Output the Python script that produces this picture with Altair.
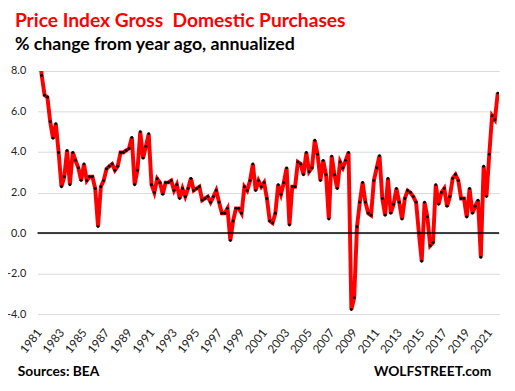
import altair as alt
import pandas as pd

start_year = 1981
values = [
    9.0, 7.78, 6.81, 6.71, 5.50, 4.68, 5.40, 3.98, 2.29, 2.78,
    4.08, 2.39, 3.98, 3.59, 3.22, 2.59, 3.41, 2.59, 2.78, 2.78,
    2.2, 0.32, 2.29, 2.59, 3.16, 3.3, 3.41, 3.1, 3.3, 3.98,
    3.98, 4.08, 4.18, 4.72, 2.39, 3.1, 5.0, 3.7, 4.28, 4.9,
    2.39, 2.0, 2.68, 2.49, 1.92, 2.49, 2.5, 2.59, 2.1, 2.39,
    1.71, 2.2, 1.8, 2.2, 2.7, 2.1, 2.2, 2.29, 1.62, 1.71,
    1.8, 1.52, 1.8, 2.1, 1.52, 0.98, 0.98, 1.22, -0.37, 0.6,
    1.22, 1.22, 0.98, 2.29, 2.1, 2.59, 3.41, 2.1, 2.59, 2.29,
    2.49, 1.71, 0.6, 0.5, 0.98, 2.39, 1.92, 2.49, 3.22, 0.4,
    2.29, 2.29, 3.51, 3.41, 2.88, 3.98, 3.03, 3.22, 4.58, 3.89,
    2.59, 3.59, 2.88, 0.69, 3.8, 2.88, 2.2, 3.51, 3.22, 3.59,
    3.98, -3.77, -3.19, 0.31, 1.52, 2.5, 1.52, 0.98, 0.88, 2.59,
    3.22, 3.82, 1.71, 0.88, 2.7, 0.98, 1.42, 2.2, 1.52, 0.69,
    1.71, 2.1, 2.0, 1.8, 1.52, 0.0, -1.39, 1.52, 0.8, -0.62,
    -0.47, 2.39, 1.42, 2.0, 2.2, 1.32, 1.8, 2.7, 2.89, 2.59,
    1.71, 1.71, 0.79, 2.2, 0.98, 1.32, 1.62, -1.2, 3.3, 1.8,
    3.89, 5.79, 5.6, 6.91,
]
quarters = [start_year + i / 4 for i in range(len(values))]
year_ticks = list(range(1981, 2022, 2))
y_ticks = [-4, -2, 0, 2, 4, 6, 8]

title = "Price Index Gross\u00a0 Domestic Purchases"
subtitle = "% change from year ago, annualized"
source = "Sources: BEA"
brand = "WOLFSTREET.com"

df = pd.DataFrame({"t": quarters, "v": values})
FONT = "Lato"

x_scale = alt.Scale(domain=[1980.875, 2021.875], nice=False, zero=False)
y_scale = alt.Scale(domain=[-4, 8], nice=False)
x_axis = alt.Axis(
    values=year_ticks, format="d", labelAngle=-52, labelPadding=16,
    labelOverlap=False, labelBound=False, labelFlush=False,
    domain=False, ticks=False, grid=False, title=None,
    labelFont=FONT, labelFontSize=12, labelColor="#222222",
)
y_axis = alt.Axis(
    values=y_ticks, labelExpr="replace(format(datum.value, '.1f'), '\u2212', '-')",
    domain=False, ticks=False, labelOverlap=False,
    grid=True, gridColor="#D9D9D9", gridWidth=1, labelPadding=12,
    title=None, labelFont=FONT, labelFontSize=11, labelColor="#222222",
)

x_enc = alt.X("t:Q", scale=x_scale, axis=x_axis)
y_enc = alt.Y("v:Q", scale=y_scale, axis=y_axis)

line = alt.Chart(df).mark_line(color="#FF0000", strokeWidth=4, clip=True).encode(x=x_enc, y=y_enc)
pts = alt.Chart(df).mark_point(filled=True, color="black", size=9, opacity=1, clip=True).encode(x=x_enc, y=y_enc)
zero = alt.Chart(pd.DataFrame({"v": [0]})).mark_rule(color="black", strokeWidth=1.5).encode(y=y_enc)

one = pd.DataFrame({"a": [0]})
t1 = alt.Chart(one).mark_text(font=FONT, fontSize=19.5, fontWeight="bold", color="#FF0000", align="left", baseline="alphabetic").encode(
    x=alt.value(-23), y=alt.value(-45), text=alt.value(title))
t2 = alt.Chart(one).mark_text(font=FONT, fontSize=18, fontWeight="bold", color="black", align="left", baseline="alphabetic").encode(
    x=alt.value(-23), y=alt.value(-21), text=alt.value(subtitle))
t3 = alt.Chart(one).mark_text(font=FONT, fontSize=14, fontWeight="bold", color="black", align="left", baseline="alphabetic").encode(
    x=alt.value(-20), y=alt.value(310), text=alt.value(source))
t4 = alt.Chart(one).mark_text(font=FONT, fontSize=14, fontWeight="bold", color="black", align="right", baseline="alphabetic").encode(
    x=alt.value(461), y=alt.value(310), text=alt.value(brand))

chart = alt.layer(line, zero, pts, t1, t2, t3, t4).properties(
    width=469, height=247,
    padding={"left": 30, "top": 61, "right": 8, "bottom": 70},
    autosize=alt.AutoSizeParams(type="none"),
).configure_view(stroke=None).configure_axis(labelOverlap=False)

chart.save("out.html", embed_options={"renderer": "svg", "actions": False})
